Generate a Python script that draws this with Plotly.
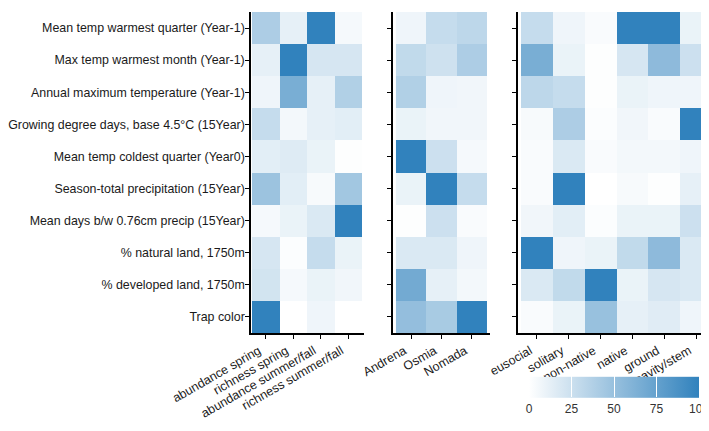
import plotly.graph_objects as go

rows = [
    "Mean temp warmest quarter (Year-1)",
    "Max temp warmest month (Year-1)",
    "Annual maximum temperature (Year-1)",
    "Growing degree days, base 4.5°C (15Year)",
    "Mean temp coldest quarter (Year0)",
    "Season-total precipitation (15Year)",
    "Mean days b/w 0.76cm precip (15Year)",
    "% natural land, 1750m",
    "% developed land, 1750m",
    "Trap color",
]

cols1 = ["abundance spring", "richness spring", "abundance summer/fall", "richness summer/fall"]
cols2 = ["Andrena", "Osmia", "Nomada"]
cols3 = ["eusocial", "solitary", "non-native", "native", "ground", "cavity/stem"]

z1 = [
    [40, 12, 100, 5],
    [12, 100, 20, 20],
    [8, 65, 12, 38],
    [28, 6, 12, 14],
    [14, 16, 10, 1],
    [48, 14, 4, 45],
    [5, 10, 18, 100],
    [20, 2, 28, 10],
    [22, 5, 10, 7],
    [100, 0, 8, 0],
]
z2 = [
    [8, 28, 32],
    [30, 24, 40],
    [38, 8, 7],
    [10, 7, 7],
    [100, 25, 5],
    [10, 100, 28],
    [1, 25, 3],
    [18, 18, 8],
    [68, 12, 6],
    [52, 42, 100],
]
z3 = [
    [28, 8, 3, 100, 100, 10],
    [65, 10, 1, 20, 55, 25],
    [32, 28, 1, 10, 8, 8],
    [4, 40, 2, 7, 3, 100],
    [3, 18, 3, 6, 6, 8],
    [3, 100, 0, 4, 1, 12],
    [7, 14, 2, 10, 10, 25],
    [100, 8, 10, 30, 55, 18],
    [18, 30, 100, 10, 20, 18],
    [3, 10, 50, 12, 15, 8],
]
cbar_ticks = [0, 25, 50, 75, 100]

W, H = 709, 431
FONT = "Liberation Sans, Arial, sans-serif"
TXT = "#1a1a1a"
FS = 12.5

fig = go.Figure()
fig.add_trace(go.Heatmap(z=z1, x=cols1, y=rows, coloraxis="coloraxis", xaxis="x", yaxis="y",
                         hovertemplate="%{y}<br>%{x}: %{z}<extra></extra>"))
fig.add_trace(go.Heatmap(z=z2, x=cols2, y=rows, coloraxis="coloraxis", xaxis="x2", yaxis="y2",
                         hovertemplate="%{y}<br>%{x}: %{z}<extra></extra>"))
fig.add_trace(go.Heatmap(z=z3, x=cols3, y=rows, coloraxis="coloraxis", xaxis="x3", yaxis="y3",
                         hovertemplate="%{y}<br>%{x}: %{z}<extra></extra>"))

def px_x(a, b):
    return [a / W, b / W]

ydom = [(H - 325) / H, (H - 4) / H]

xcommon = dict(showgrid=False, zeroline=False, showline=True, linecolor="black", linewidth=1.5,
               ticks="outside", ticklen=4, tickwidth=1.2, tickcolor="black", tickangle=-30,
               automargin=False, ticklabelshift=-7,
               tickfont=dict(family=FONT, size=FS, color=TXT), fixedrange=True)
ycommon = dict(showgrid=False, zeroline=False, showline=True, linecolor="black", linewidth=1.5,
               ticks="outside", ticklen=4, tickwidth=1.2, tickcolor="black", autorange="reversed",
               automargin=False, ticklabelstandoff=-2,
               tickfont=dict(family=FONT, size=12.4, color=TXT), domain=ydom, fixedrange=True)

def xr(n, left_px, right_px, cell):
    return [-0.5 - left_px / cell, n - 0.5 + right_px / cell]

fig.update_layout(
    width=W, height=H,
    margin=dict(l=0, r=0, t=0, b=0, autoexpand=False),
    paper_bgcolor="white", plot_bgcolor="white",
    font=dict(family=FONT, size=FS, color=TXT),
    xaxis=dict(domain=px_x(243, 356), anchor="y", range=xr(4, 1, 2, 27.5), **xcommon),
    xaxis2=dict(domain=px_x(385, 482), anchor="y2", range=xr(3, 3, 3, 30.5), **xcommon),
    xaxis3=dict(domain=px_x(510, 707), anchor="y3", range=xr(6, 3, 3, 31.8), **xcommon),
    yaxis=dict(anchor="x", showticklabels=True, **ycommon),
    yaxis2=dict(anchor="x2", showticklabels=False, **ycommon),
    yaxis3=dict(anchor="x3", showticklabels=False, **ycommon),
    coloraxis=dict(
        colorscale=[[0, "#ffffff"], [1, "#3182bd"]], cmin=0, cmax=100,
        colorbar=dict(
            orientation="h", x=606 / W, xanchor="center", y=(H - 399) / H, yanchor="middle",
            len=170 / W, lenmode="fraction", thickness=21, thicknessmode="pixels",
            outlinewidth=0, tickvals=cbar_ticks, tickmode="array", ticks="inside", ticklen=21,
            tickcolor="white", tickwidth=1, tickfont=dict(family=FONT, size=12, color="#333333"),
            ticklabeloverflow="allow", xpad=0, ypad=0,
        ),
    ),
)

fig.write_html("out.html")
